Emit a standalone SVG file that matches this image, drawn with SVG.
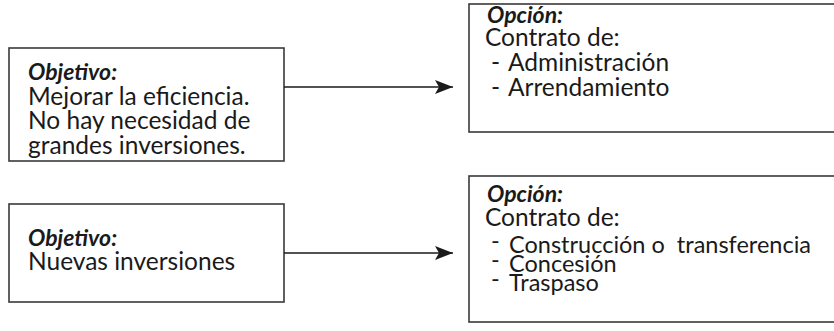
<svg xmlns="http://www.w3.org/2000/svg" width="834" height="331" viewBox="0 0 834 331">
  <defs>
    <marker id="arrowhead" markerWidth="18" markerHeight="14" refX="18" refY="7" orient="auto" markerUnits="userSpaceOnUse">
      <path d="M0,0 L18,7 L0,14 L4,7 Z" fill="#1a1a1a"/>
    </marker>
    <style>
      .box { fill: #ffffff; stroke: #3a3a3a; stroke-width: 1.6; }
      .txt { font-family: Lato, "Liberation Sans", sans-serif; font-size: 24.5px; fill: #1a1a1a; }
      .head { font-weight: bold; font-style: italic; font-size: 23px; }
      .list { font-size: 23.5px; white-space: pre; }
      .link { stroke: #1a1a1a; stroke-width: 1.5; fill: none; marker-end: url(#arrowhead); }
    </style>
  </defs>
  <rect width="834" height="331" fill="#ffffff"/>

  <g id="objetivo-eficiencia">
    <rect class="box" x="9" y="48" width="275" height="113"/>
    <text class="txt head" x="28" y="80">Objetivo:</text>
    <text class="txt" x="28" y="105">Mejorar la eficiencia.</text>
    <text class="txt" x="28" y="129">No hay necesidad de</text>
    <text class="txt" x="28" y="154">grandes inversiones.</text>
  </g>

  <g id="opcion-administracion">
    <rect class="box" x="469" y="4" width="380" height="128"/>
    <text class="txt head" x="487" y="23">Opción:</text>
    <text class="txt" x="485" y="46">Contrato de:</text>
    <text class="txt" x="491" y="71">-<tspan x="508">Administración</tspan></text>
    <text class="txt" x="491" y="96">-<tspan x="508">Arrendamiento</tspan></text>
  </g>

  <g id="objetivo-inversiones">
    <rect class="box" x="9" y="204" width="275" height="98"/>
    <text class="txt head" x="28" y="246">Objetivo:</text>
    <text class="txt" x="28" y="270">Nuevas inversiones</text>
  </g>

  <g id="opcion-concesion">
    <rect class="box" x="469" y="176" width="380" height="146"/>
    <text class="txt head" x="487" y="202">Opción:</text>
    <text class="txt" x="485" y="226">Contrato de:</text>
    <text class="txt list" x="491" y="253"><tspan dy="-4">-</tspan><tspan x="509" dy="4">Construcción o  transferencia</tspan></text>
    <text class="txt list" x="491" y="272"><tspan dy="-4">-</tspan><tspan x="509" dy="4">Concesión</tspan></text>
    <text class="txt list" x="491" y="291"><tspan dy="-4">-</tspan><tspan x="509" dy="4">Traspaso</tspan></text>
  </g>

  <g id="connectors">
    <line class="link" x1="284" y1="87" x2="453" y2="87"/>
    <line class="link" x1="284" y1="253" x2="453" y2="253"/>
  </g>
</svg>
